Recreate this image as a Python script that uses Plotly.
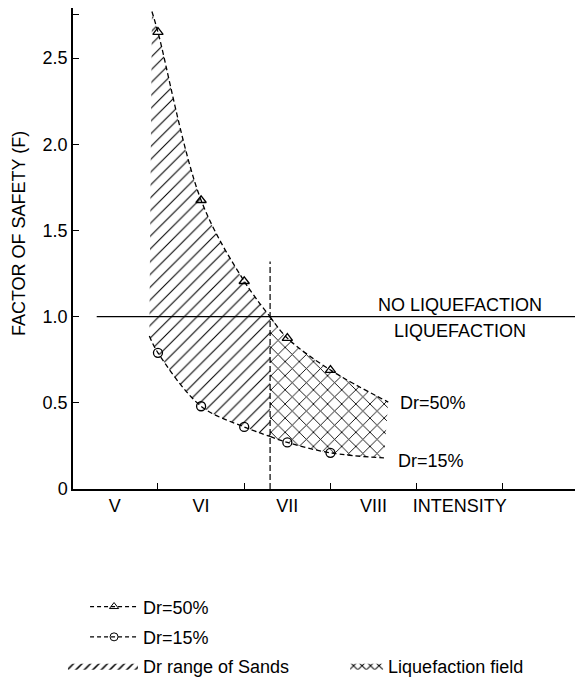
import plotly.graph_objects as go

# ---- data ----
intensity_pts = [5.5, 6.0, 6.5, 7.0, 7.5]
f_dr50 = [2.65, 1.675, 1.205, 0.875, 0.69]
f_dr15 = [0.79, 0.48, 0.36, 0.27, 0.21]

# envelope curves (Dr=50% upper, Dr=15% lower), split at the intensity where F=1
liq_intensity = 6.8
upper_left_x = [5.43, 5.5, 6.0, 6.5, 6.8]
upper_left_y = [2.77, 2.65, 1.675, 1.205, 1.0]
lower_left_x = [5.40, 5.5, 6.0, 6.5, 6.8]
lower_left_y = [0.887, 0.79, 0.48, 0.36, 0.305]
upper_right_x = [6.8, 7.0, 7.5, 8.17]
upper_right_y = [1.0, 0.875, 0.69, 0.504]
lower_right_x = [6.8, 7.0, 7.5, 8.12]
lower_right_y = [0.305, 0.27, 0.21, 0.18]

y_tickvals = [0, 0.5, 1.0, 1.5, 2.0, 2.5, 2.75]
y_ticktext = ["0", "0.5", "1.0", "1.5", "2.0", "2.5", ""]
x_tickvals = [5, 6, 7, 8, 9]
x_ticktext = ["V", "VI", "VII", "VIII", "INTENSITY"]

FONT = "Liberation Sans, Arial, Helvetica, sans-serif"
FS = 18
DASH = "5px,3px"
LW = 1.3

fig = go.Figure()

hatch = dict(shape="/", size=9, solidity=0.12, fgcolor="black", fgopacity=1,
             bgcolor="rgba(0,0,0,0)")
cross = dict(shape="x", size=10, solidity=0.17, fgcolor="black", fgopacity=1,
             bgcolor="rgba(0,0,0,0)")

# hatched region (Dr range of sands)
fig.add_trace(go.Scatter(x=upper_left_x, y=upper_left_y, mode="lines",
                         line=dict(color="black", width=LW, dash=DASH, shape="spline"),
                         showlegend=False, hoverinfo="skip"))
fig.add_trace(go.Scatter(x=lower_left_x, y=lower_left_y, mode="lines",
                         line=dict(color="black", width=LW, dash=DASH, shape="spline"),
                         fill="tonexty", fillcolor="rgba(0,0,0,0)", fillpattern=hatch,
                         showlegend=False, hoverinfo="skip"))
# cross-hatched region (liquefaction field)
fig.add_trace(go.Scatter(x=upper_right_x, y=upper_right_y, mode="lines",
                         line=dict(color="black", width=LW, dash=DASH, shape="spline"),
                         showlegend=False, hoverinfo="skip"))
fig.add_trace(go.Scatter(x=lower_right_x, y=lower_right_y, mode="lines",
                         line=dict(color="black", width=LW, dash=DASH, shape="spline"),
                         fill="tonexty", fillcolor="rgba(0,0,0,0)", fillpattern=cross,
                         showlegend=False, hoverinfo="skip"))

# measured points
fig.add_trace(go.Scatter(x=intensity_pts, y=f_dr50, mode="markers",
                         marker=dict(symbol="triangle-up-open", size=9, color="black",
                                     line=dict(width=1.3)),
                         showlegend=False))
fig.add_trace(go.Scatter(x=intensity_pts, y=f_dr15, mode="markers",
                         marker=dict(symbol="circle-open", size=9, color="black",
                                     line=dict(width=1.3)),
                         showlegend=False))

# legend-only entries
fig.add_trace(go.Scatter(x=[None], y=[None], mode="lines+markers", name="Dr=50%",
                         line=dict(color="black", width=1.2, dash="4px,3px"),
                         marker=dict(symbol="triangle-up-open", size=8, color="black"),
                         legend="legend"))
fig.add_trace(go.Scatter(x=[None], y=[None], mode="lines+markers", name="Dr=15%",
                         line=dict(color="black", width=1.2, dash="4px,3px"),
                         marker=dict(symbol="circle-open", size=8, color="black"),
                         legend="legend2"))
fig.add_trace(go.Scatter(x=[None], y=[None], mode="lines", name="Dr range of Sands",
                         fill="toself", fillcolor="rgba(0,0,0,0)", line=dict(width=0),
                         fillpattern=dict(shape="/", size=6, solidity=0.25, fgcolor="black",
                                          fgopacity=1, bgcolor="rgba(0,0,0,0)"),
                         legend="legend3"))
fig.add_trace(go.Scatter(x=[None], y=[None], mode="lines", name="Liquefaction field",
                         fill="toself", fillcolor="rgba(0,0,0,0)", line=dict(width=0),
                         fillpattern=dict(shape="x", size=6, solidity=0.3, fgcolor="black",
                                          fgopacity=1, bgcolor="rgba(0,0,0,0)"),
                         legend="legend4"))

# reference lines
fig.add_shape(type="line", xref="x", yref="y", x0=liq_intensity, x1=liq_intensity,
              y0=0, y1=1.32, line=dict(color="black", width=1.2, dash="6px,3px"))
fig.add_shape(type="line", xref="x", yref="y", x0=4.79, x1=10.335, y0=1.0, y1=1.0,
              line=dict(color="black", width=1.2))

ann_font = dict(family=FONT, size=FS, color="black")
fig.add_annotation(x=9.0, y=1.067, text="NO LIQUEFACTION", showarrow=False, font=ann_font)
fig.add_annotation(x=9.0, y=0.916, text="LIQUEFACTION", showarrow=False, font=ann_font)
fig.add_annotation(x=8.28, y=0.50, text="Dr=50%", showarrow=False, xanchor="left", font=ann_font)
fig.add_annotation(x=8.26, y=0.16, text="Dr=15%", showarrow=False, xanchor="left", font=ann_font)
# y-axis title
fig.add_annotation(xref="paper", yref="paper", x=-0.1076, y=0.532, text="FACTOR OF SAFETY (F)",
                   textangle=-90, showarrow=False, xanchor="center", yanchor="middle",
                   font=ann_font)

def leg(x, y, w):
    return dict(x=x, y=y, itemwidth=w, font=dict(family=FONT, size=FS, color="black"),
                bgcolor="rgba(0,0,0,0)", borderwidth=0, xanchor="left", yanchor="middle")

fig.update_layout(
    width=575, height=688,
    margin=dict(l=73, r=0, t=8, b=199, autoexpand=False),
    paper_bgcolor="white", plot_bgcolor="white",
    font=dict(family=FONT, size=FS, color="black"),
    xaxis=dict(range=[4.515, 10.335], showgrid=False, zeroline=False,
               showline=True, linecolor="black", linewidth=1.5,
               tickmode="array", tickvals=x_tickvals, ticktext=x_ticktext, ticks="",
               minor=dict(ticks="inside", tick0=5.5, dtick=1, ticklen=6,
                          tickcolor="black", tickwidth=1.2, showgrid=False),
               tickfont=dict(family=FONT, size=FS)),
    yaxis=dict(range=[0, 2.79], showgrid=False, zeroline=False,
               showline=True, linecolor="black", linewidth=1.5,
               tickmode="array", tickvals=y_tickvals, ticktext=y_ticktext,
               ticks="inside", ticklen=6, tickcolor="black", tickwidth=1.2,
               tickfont=dict(family=FONT, size=FS)),
    legend=leg(0.024, -0.245, 48),
    legend2=leg(0.024, -0.308, 48),
    legend3=leg(-0.02, -0.368, 70),
    legend4=leg(0.542, -0.368, 33),
)

fig.write_html("out.html", post_script="document.body.style.margin='0';",
               config={"displayModeBar": False})
